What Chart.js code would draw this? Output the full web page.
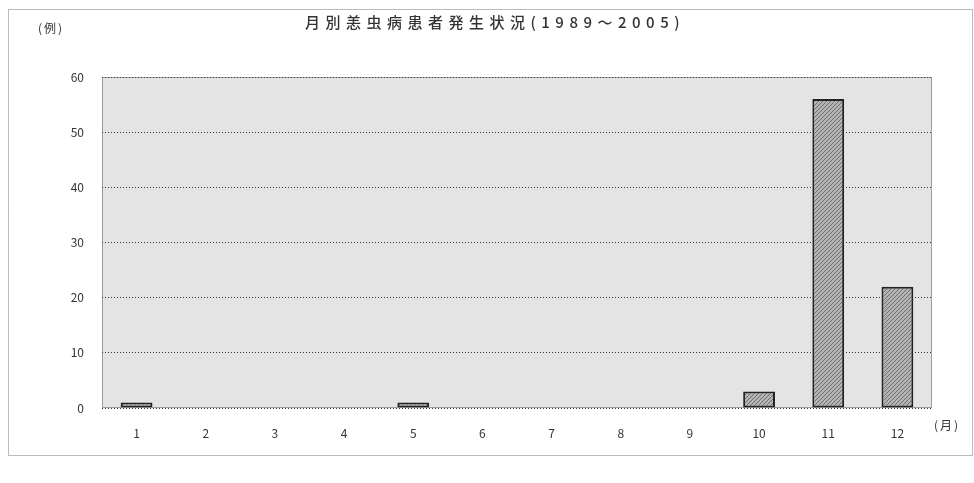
<!DOCTYPE html>
<html>
<head>
<meta charset="utf-8">
<script src="https://cdn.jsdelivr.net/npm/chart.js@4/dist/chart.umd.min.js"></script>
<style>
  html, body { margin: 0; padding: 0; background: #fff; }
  #wrap { width: 974px; height: 483px; }
</style>
</head>
<body>
<div id="wrap"><canvas id="chart" width="974" height="483"></canvas></div>
<script>
const TITLE = "月別恙虫病患者発生状況(1989～2005)";
const Y_UNIT = "(例)";
const X_UNIT = "(月)";
const months = ["1", "2", "3", "4", "5", "6", "7", "8", "9", "10", "11", "12"];
const cases = [1, 0, 0, 0, 1, 0, 0, 0, 0, 3, 56, 22];
const yTicks = [0, 10, 20, 30, 40, 50, 60];

const FONT = "'Noto Sans CJK JP', 'DejaVu Sans', sans-serif";
const INK = "#333";

// small diagonal hatch for the bars, like the printed original
function hatch() {
  const p = document.createElement("canvas");
  p.width = 4; p.height = 4;
  const g = p.getContext("2d");
  g.fillStyle = "#b4b4b4";
  g.fillRect(0, 0, 4, 4);
  g.fillStyle = "#6e6e6e";
  for (let i = 0; i < 4; i++) g.fillRect(i, 3 - i, 1, 1);
  return g.createPattern(p, "repeat");
}

// frame, plot background and the loose texts around the plot
const decor = {
  id: "decor",
  beforeDraw(c) {
    const ctx = c.ctx, a = c.chartArea;
    ctx.save();
    ctx.fillStyle = "#fff";
    ctx.fillRect(0, 0, c.width, c.height);
    ctx.strokeStyle = "#777";
    ctx.lineWidth = 1;
    ctx.setLineDash([1, 1]);
    ctx.strokeRect(8.5, 9.5, 964, 446);
    ctx.setLineDash([]);
    ctx.fillStyle = "#e4e4e4";
    ctx.fillRect(a.left, a.top, a.right - a.left, a.bottom - a.top);
    ctx.restore();
  },
  afterDraw(c) {
    const ctx = c.ctx, a = c.chartArea;
    ctx.save();
    ctx.fillStyle = INK;
    ctx.textBaseline = "middle";
    ctx.letterSpacing = "5.5px";
    ctx.font = "500 15px " + FONT;
    ctx.textAlign = "center";
    ctx.fillText(TITLE, 495, 22);
    ctx.letterSpacing = "2px";
    ctx.font = "12px " + FONT;
    ctx.textAlign = "left";
    ctx.fillText(Y_UNIT, 38, 28);
    ctx.fillText(X_UNIT, 934, 425);
    ctx.setLineDash([1, 1]);
    ctx.strokeStyle = "#555";
    ctx.strokeRect(a.left + 0.5, a.top + 0.5, a.right - a.left - 1, a.bottom - a.top - 1);
    ctx.restore();
  }
};

new Chart(document.getElementById("chart"), {
  type: "bar",
  data: {
    labels: months,
    datasets: [{
      data: cases,
      backgroundColor: hatch(),
      borderColor: "#222",
      borderWidth: 2,
      borderSkipped: false,
      categoryPercentage: 1,
      barPercentage: 0.46
    }]
  },
  options: {
    responsive: false,
    animation: false,
    layout: { padding: { left: 0, right: 42, top: 77, bottom: 40 } },
    plugins: { legend: { display: false }, tooltip: { enabled: false } },
    scales: {
      x: {
        afterFit: s => { s.height = 35; },
        grid: { display: false },
        border: { display: false },
        ticks: { color: INK, font: { family: FONT, size: 12 }, padding: 10 }
      },
      y: {
        min: 0,
        max: 60,
        afterFit: s => { s.width = 102; },
        afterBuildTicks: s => { s.ticks = yTicks.map(v => ({ value: v })); },
        grid: { color: "#333", lineWidth: 1, drawTicks: false },
        border: { display: false, dash: [1, 2] },
        ticks: { color: INK, font: { family: FONT, size: 12 }, padding: 18 }
      }
    }
  },
  plugins: [decor]
});
</script>
</body>
</html>
